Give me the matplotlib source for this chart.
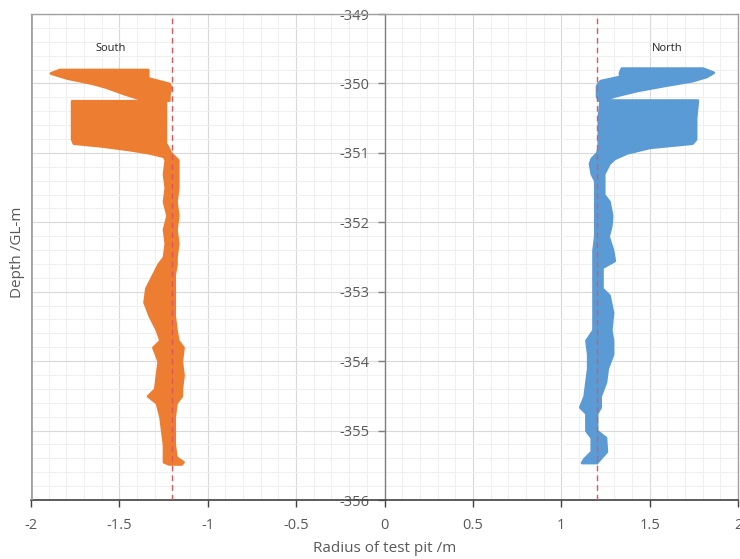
import numpy as np
import matplotlib
matplotlib.use('Agg')
import matplotlib.pyplot as plt
from matplotlib.ticker import MultipleLocator, FuncFormatter

plt.rcParams['font.family'] = ['Open Sans', 'DejaVu Sans']
plt.rcParams['axes.unicode_minus'] = False

# ---- profile data (depth, inner/outer radius) ----
# South wall: upper flag and main body
south_top_depth = [-349.80, -349.85, -349.92, -350.00, -350.05, -350.15, -350.24]
south_top_left  = [-1.84, -1.89, -1.80, -1.65, -1.58, -1.47, -1.36]
south_top_right = [-1.34, -1.34, -1.34, -1.22, -1.21, -1.22, -1.22]

south_depth = [-350.25, -350.50, -350.80, -350.86, -350.90, -350.95, -351.00, -351.05,
               -351.10, -351.30, -351.50, -351.70, -351.90, -352.10, -352.30, -352.50,
               -352.60, -352.75, -352.95, -353.15, -353.35, -353.55, -353.70, -353.80,
               -354.00, -354.20, -354.40, -354.50, -354.60, -354.80, -355.00, -355.20,
               -355.38, -355.45, -355.48]
south_left  = [-1.77, -1.77, -1.77, -1.76, -1.60, -1.45, -1.33, -1.25,
               -1.24, -1.25, -1.24, -1.25, -1.23, -1.25, -1.24, -1.25,
               -1.28, -1.31, -1.35, -1.36, -1.33, -1.29, -1.27, -1.31,
               -1.28, -1.29, -1.30, -1.34, -1.29, -1.27, -1.26, -1.25,
               -1.25, -1.25, -1.22]
south_right = [-1.24, -1.24, -1.24, -1.24, -1.23, -1.22, -1.21, -1.19,
               -1.17, -1.17, -1.17, -1.18, -1.17, -1.18, -1.17, -1.18,
               -1.18, -1.19, -1.19, -1.19, -1.19, -1.18, -1.17, -1.14,
               -1.15, -1.14, -1.15, -1.15, -1.18, -1.19, -1.19, -1.19,
               -1.18, -1.14, -1.15]

# North wall
north_top_depth = [-349.78, -349.84, -349.90, -349.96, -350.03, -350.10, -350.18, -350.24]
north_top_left  = [1.34, 1.33, 1.33, 1.22, 1.20, 1.20, 1.20, 1.21]
north_top_right = [1.80, 1.86, 1.82, 1.74, 1.58, 1.43, 1.30, 1.24]

north_depth = [-350.24, -350.50, -350.80, -350.86, -350.92, -351.00, -351.08, -351.15,
               -351.30, -351.40, -351.60, -351.70, -351.90, -352.05, -352.20, -352.40,
               -352.55, -352.65, -352.95, -353.05, -353.30, -353.55, -353.70, -353.90,
               -354.10, -354.30, -354.50, -354.66, -354.75, -355.00, -355.10, -355.30,
               -355.40, -355.46]
north_left  = [1.22, 1.21, 1.21, 1.21, 1.21, 1.20, 1.17, 1.16,
               1.17, 1.19, 1.19, 1.19, 1.19, 1.19, 1.19, 1.18,
               1.18, 1.18, 1.18, 1.18, 1.18, 1.18, 1.14, 1.15,
               1.15, 1.14, 1.13, 1.105, 1.14, 1.14, 1.17, 1.17,
               1.13, 1.115]
north_right = [1.77, 1.76, 1.76, 1.74, 1.50, 1.37, 1.30, 1.27,
               1.24, 1.24, 1.24, 1.27, 1.285, 1.28, 1.265, 1.29,
               1.30, 1.23, 1.23, 1.27, 1.29, 1.28, 1.29, 1.29,
               1.26, 1.25, 1.22, 1.22, 1.20, 1.20, 1.25, 1.255,
               1.22, 1.20]

design_radius = 1.2
labels = ['South', 'North']
label_x = [-1.55, 1.6]
label_y = -349.5

orange = '#ED7D31'
blue = '#5B9BD5'
grey_txt = '#595959'

fig = plt.figure(figsize=(7.4, 5.59), dpi=100)
ax = fig.add_axes([31/740, 59/559, 707/740, 486/559])

ax.set_xlim(-2, 2)
ax.set_ylim(-356, -349)
ax.xaxis.set_major_locator(MultipleLocator(0.5))
ax.xaxis.set_minor_locator(MultipleLocator(0.1))
ax.yaxis.set_major_locator(MultipleLocator(1))
ax.yaxis.set_minor_locator(MultipleLocator(0.2))
fmt = FuncFormatter(lambda v, p: '%g' % round(v, 2))
ax.xaxis.set_major_formatter(fmt)
ax.yaxis.set_major_formatter(fmt)
ax.grid(which='major', color='#d9d9d9', lw=0.8)
ax.grid(which='minor', color='#efefef', lw=0.7)
ax.set_axisbelow(True)

# point clouds drawn as filled envelopes
for d, l, r, c in [(south_top_depth, south_top_left, south_top_right, orange),
                   (south_depth, south_left, south_right, orange),
                   (north_top_depth, north_top_left, north_top_right, blue),
                   (north_depth, north_left, north_right, blue)]:
    ax.fill_betweenx(d, l, r, color=c, lw=2.0, edgecolor=c, zorder=2)

for xv in [-design_radius, design_radius]:
    ax.axvline(xv, color='#E0555A', ls=(0, (4, 3)), lw=1.0, zorder=3)

for t, xv in zip(labels, label_x):
    ax.text(xv, label_y, t, ha='center', va='center', fontsize=8, color='#222222')

# spines: y axis through x=0, light frame around
ax.spines['left'].set_position(('data', 0))
ax.spines['left'].set_color('#7f7f7f')
ax.spines['left'].set_linewidth(1.0)
ax.spines['bottom'].set_color('#404040')
ax.spines['bottom'].set_linewidth(1.2)
for s in ['top', 'right']:
    ax.spines[s].set_color('#a0a0a0')
    ax.spines[s].set_linewidth(1.0)
ax.axvline(-2, color='#a0a0a0', lw=2.0, zorder=4)

ax.tick_params(which='minor', length=0)
ax.tick_params(axis='x', which='major', direction='out', length=5, width=1,
               color='#404040', labelcolor=grey_txt, labelsize=10.5, pad=8)
ax.tick_params(axis='y', which='major', direction='out', length=5, width=1,
               color='#7f7f7f', labelcolor=grey_txt, labelsize=10.5, pad=6)

fig.text(385/740, 1 - 548/559, 'Radius of test pit /m', ha='center', va='center',
         fontsize=11, color=grey_txt)
fig.text(18/740, 1 - 252/559, 'Depth /GL-m', ha='center', va='center', rotation=90,
         fontsize=11, color=grey_txt)

fig.savefig('out.png', dpi=100, facecolor='white')
